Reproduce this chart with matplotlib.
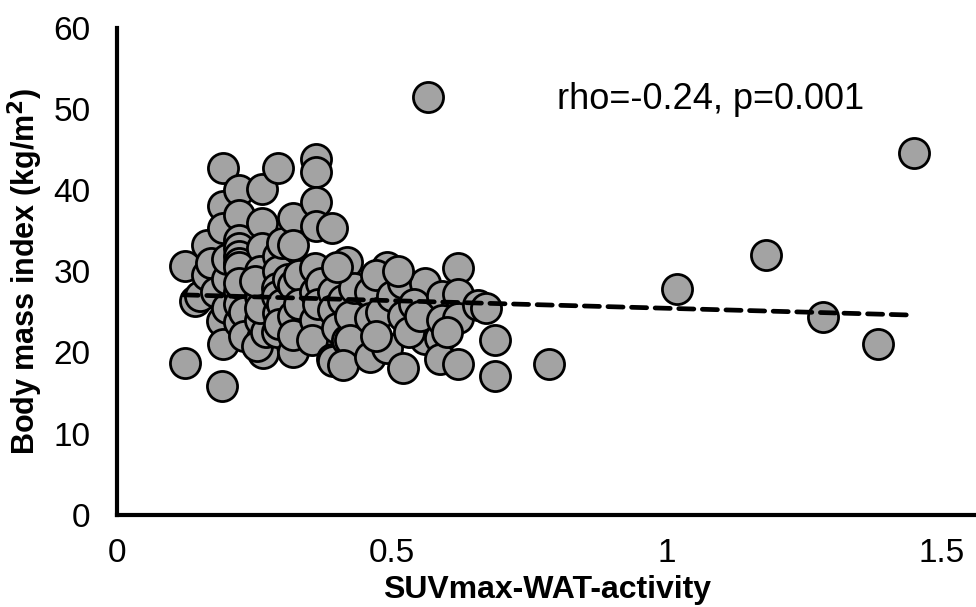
import matplotlib
matplotlib.use("Agg")
import matplotlib.pyplot as plt

# SUVmax-WAT-activity (x) gegen Body-Mass-Index (y)
suv = [0.124, 0.124, 0.142, 0.150, 0.164, 0.164, 0.170, 0.180, 0.190, 0.193,
       0.193, 0.193, 0.190, 0.193, 0.200, 0.200, 0.200,
       0.222, 0.222, 0.222, 0.222, 0.222, 0.222, 0.222, 0.222, 0.222, 0.222,
       0.222, 0.230, 0.230,
       0.264, 0.264, 0.264, 0.264, 0.260, 0.260, 0.260, 0.265, 0.255, 0.270,
       0.260, 0.250,
       0.293, 0.293, 0.293, 0.293, 0.290, 0.290, 0.290, 0.300, 0.300, 0.295,
       0.310,
       0.320, 0.320, 0.320, 0.320, 0.320, 0.320, 0.330, 0.330,
       0.362, 0.362, 0.362, 0.362, 0.360, 0.364, 0.360, 0.360, 0.370, 0.365,
       0.355,
       0.390, 0.393, 0.393, 0.390, 0.393, 0.400, 0.410, 0.418, 0.418, 0.424,
       0.424, 0.430, 0.400, 0.410,
       0.460, 0.460, 0.460, 0.490, 0.490, 0.470, 0.480, 0.500, 0.470,
       0.520, 0.520, 0.520, 0.560, 0.560, 0.540, 0.530, 0.550, 0.510,
       0.587, 0.587, 0.590, 0.590, 0.620, 0.620, 0.620, 0.620, 0.600,
       0.656, 0.670, 0.687, 0.687, 0.786,
       0.565, 1.018, 1.180, 1.284, 1.384, 1.449]
bmi = [30.7, 18.7, 26.4, 27.0, 33.2, 29.5, 31.0, 27.5, 15.9, 42.7,
       38.1, 35.4, 23.9, 21.1, 25.5, 29.0, 31.5,
       40.0, 36.9, 33.8, 32.9, 31.9, 31.0, 30.5, 27.4, 23.7, 26.0,
       28.5, 25.0, 22.0,
       40.2, 36.0, 32.9, 21.8, 30.0, 27.0, 24.0, 19.9, 20.8, 22.5,
       25.5, 28.8,
       42.7, 31.9, 30.1, 24.9, 28.0, 27.0, 22.5, 33.5, 26.0, 23.5,
       29.0,
       36.6, 33.2, 28.3, 24.5, 20.0, 22.2, 29.5, 26.0,
       43.9, 42.2, 38.5, 35.6, 30.4, 23.1, 27.5, 24.0, 28.5, 26.0,
       21.5,
       35.3, 27.4, 25.2, 19.2, 19.0, 23.0, 26.5, 31.1, 21.5, 24.5,
       21.5, 28.0, 30.5, 18.5,
       27.4, 24.2, 19.4, 30.5, 20.6, 29.5, 25.0, 27.0, 22.0,
       28.5, 24.5, 18.1, 28.6, 21.7, 26.0, 22.5, 24.5, 30.0,
       21.8, 19.2, 27.0, 24.0, 30.4, 27.2, 24.2, 18.6, 22.5,
       25.8, 25.5, 21.5, 17.1, 18.6,
       51.5, 27.8, 32.0, 24.4, 21.1, 44.6]

# Trendlinie (Anfang und Ende)
trend_x = [0.12, 1.45]
trend_y = [27.1, 24.6]

xticks = [0, 0.5, 1, 1.5]
xticklabels = ["0", "0.5", "1", "1.5"]
yticks = [0, 10, 20, 30, 40, 50, 60]

plt.rcParams['font.family'] = ['Liberation Sans', 'DejaVu Sans']

fig = plt.figure(figsize=(9.76, 6.07), dpi=100)
ax = fig.add_axes([0.12, 0.152, 0.88, 0.802])

ax.scatter(suv, bmi, s=470, c="#a3a3a3", edgecolors="black", linewidths=2.0, zorder=2)
ax.plot(trend_x, trend_y, color="black", lw=3.4, linestyle=(0, (3.2, 1.8)),
        dash_capstyle="round", zorder=3)

ax.text(0.80, 51.2, "rho=-0.24, p=0.001", fontsize=26, va="center", ha="left")

ax.set_xlim(0, 1.562)
ax.set_ylim(0, 60)
ax.set_xticks(xticks)
ax.set_xticklabels(xticklabels)
ax.set_yticks(yticks)
ax.tick_params(axis="both", length=0, labelsize=24)
ax.tick_params(axis="x", pad=17)
ax.tick_params(axis="y", pad=19)

for side in ["top", "right"]:
    ax.spines[side].set_visible(False)
for side in ["left", "bottom"]:
    ax.spines[side].set_linewidth(3)

ax.set_xlabel("SUVmax-WAT-activity", fontsize=23, fontweight="bold", labelpad=4)
ax.set_ylabel("Body mass index (kg/m$\\mathbf{^2}$)", fontsize=22, fontweight="bold", labelpad=6)

fig.savefig("out.png", dpi=100)
